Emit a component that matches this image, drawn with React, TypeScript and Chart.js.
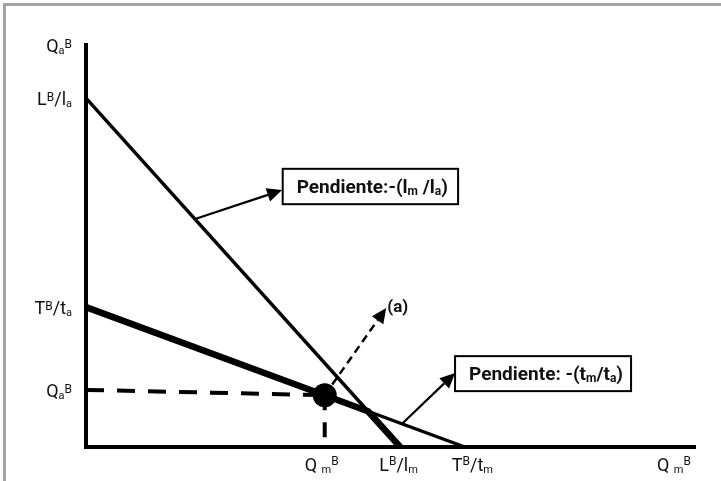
import React, { useEffect, useRef } from "react";
import { Chart, registerables } from "chart.js";

Chart.register(...registerables);

type Seg = { t: string; k?: "sub" | "sup" };

// ---------- data ----------
const steepLine = [{ x: 0, y: 86.8 }, { x: 51.6, y: 0 }]; // L^B/l_a -> L^B/l_m
const flatLine = [{ x: 0, y: 34.8 }, { x: 62.2, y: 0 }]; // T^B/t_a -> T^B/t_m
const frontier = [{ x: 0, y: 34.8 }, { x: 46.3, y: 8.9 }, { x: 51.6, y: 0 }];
const optimum = [{ x: 39.2, y: 12.9 }];
const guideH = [{ x: 0, y: 14.2 }, { x: 39.2, y: 12.9 }];
const guideV = [{ x: 39.2, y: 12.9 }, { x: 39.2, y: 0 }];

const yTickValues = [100, 86.8, 34.8, 14.2];
const yTickLabels: Seg[][] = [
  [{ t: "Q" }, { t: "a", k: "sub" }, { t: "B", k: "sup" }],
  [{ t: "L" }, { t: "B", k: "sup" }, { t: "/l" }, { t: "a", k: "sub" }],
  [{ t: "T" }, { t: "B", k: "sup" }, { t: "/t" }, { t: "a", k: "sub" }],
  [{ t: "Q" }, { t: "a", k: "sub" }, { t: "B", k: "sup" }],
];
const xTickValues = [39.2, 51.6, 62.2, 100];
const xTickLabels: Seg[][] = [
  [{ t: "Q " }, { t: "m", k: "sub" }, { t: "B", k: "sup" }],
  [{ t: "L" }, { t: "B", k: "sup" }, { t: "/l" }, { t: "m", k: "sub" }],
  [{ t: "T" }, { t: "B", k: "sup" }, { t: "/t" }, { t: "m", k: "sub" }],
  [{ t: "Q " }, { t: "m", k: "sub" }, { t: "B", k: "sup" }],
];

// annotations (arrows and slope boxes), in data units
const arrowFrom = [[17.9, 56.7], [51.9, 5.8], [39.2, 12.9]];
const arrowTo = [[32.2, 63.9], [60.6, 18.4], [49.3, 34.6]];
const arrowDashed = [false, false, true];
const pointLabel = "(a)";
const boxLabels: Seg[][] = [
  [{ t: "Pendiente:-(l" }, { t: "m", k: "sub" }, { t: " /l" }, { t: "a", k: "sub" }, { t: ")" }],
  [{ t: "Pendiente: -(t" }, { t: "m", k: "sub" }, { t: "/t" }, { t: "a", k: "sub" }, { t: ")" }],
];
const boxX = [[32.3, 61.1], [60.6, 89.5]];
const boxY = [[60.4, 69.2], [13.9, 22.6]];

// ---------- style ----------
const FONT = "Roboto, 'Noto Sans', sans-serif";
const xLabelDx = [-20, -21, -13, -38];

function drawRich(
  ctx: CanvasRenderingContext2D,
  segs: Seg[],
  x: number,
  y: number,
  align: "left" | "right" | "center",
  size: number,
  bold: boolean,
  supDy: number,
  small: number
) {
  const w8 = bold ? "bold " : "";
  const fontFor = (k?: string) =>
    `${w8}${k === "sub" ? small : k === "sup" ? small + 1 : size}px ${FONT}`;
  let w = 0;
  for (const s of segs) {
    ctx.font = fontFor(s.k);
    w += ctx.measureText(s.t).width;
  }
  let cx = align === "right" ? x - w : align === "center" ? x - w / 2 : x;
  ctx.textAlign = "left";
  ctx.textBaseline = "alphabetic";
  for (const s of segs) {
    ctx.font = fontFor(s.k);
    const dy = s.k === "sub" ? 2 : s.k === "sup" ? -supDy : 0;
    ctx.fillText(s.t, cx, y + dy);
    cx += ctx.measureText(s.t).width;
  }
}

function drawArrow(
  ctx: CanvasRenderingContext2D,
  x1: number,
  y1: number,
  x2: number,
  y2: number,
  dashed: boolean
) {
  const ang = Math.atan2(y2 - y1, x2 - x1);
  const L = 15;
  const W = 7;
  const bx = x2 - L * Math.cos(ang);
  const by = y2 - L * Math.sin(ang);
  ctx.save();
  ctx.strokeStyle = "#000";
  ctx.fillStyle = "#000";
  ctx.lineWidth = dashed ? 2.5 : 2.2;
  ctx.setLineDash(dashed ? [8, 5] : []);
  ctx.beginPath();
  ctx.moveTo(x1, y1);
  ctx.lineTo(bx, by);
  ctx.stroke();
  ctx.setLineDash([]);
  ctx.beginPath();
  ctx.moveTo(x2, y2);
  ctx.lineTo(bx - W * Math.sin(ang), by + W * Math.cos(ang));
  ctx.lineTo(bx + W * Math.sin(ang), by - W * Math.cos(ang));
  ctx.closePath();
  ctx.fill();
  ctx.restore();
}

const annotations = {
  id: "annotations",
  beforeDatasetsDraw(chart: any) {
    const { ctx, scales } = chart;
    const sx = scales.x;
    const sy = scales.y;
    for (let i = 0; i < arrowFrom.length; i++) {
      drawArrow(
        ctx,
        sx.getPixelForValue(arrowFrom[i][0]),
        sy.getPixelForValue(arrowFrom[i][1]),
        sx.getPixelForValue(arrowTo[i][0]),
        sy.getPixelForValue(arrowTo[i][1]),
        arrowDashed[i]
      );
    }
  },
  afterDatasetsDraw(chart: any) {
    const { ctx, scales } = chart;
    const sx = scales.x;
    const sy = scales.y;
    ctx.save();
    ctx.fillStyle = "#111";
    // tick labels
    const axisX = sx.getPixelForValue(0);
    const axisY = sy.getPixelForValue(0);
    yTickValues.forEach((v, i) => {
      drawRich(ctx, yTickLabels[i], axisX - 14, sy.getPixelForValue(v) + 7, "right", 18, false, 4, 11);
    });
    xTickValues.forEach((v, i) => {
      drawRich(ctx, xTickLabels[i], sx.getPixelForValue(v) + xLabelDx[i], axisY + 24, "left", 18, false, 6, 11);
    });
    // point label
    const t = arrowTo[2];
    ctx.font = `bold 17px ${FONT}`;
    ctx.textAlign = "left";
    ctx.textBaseline = "alphabetic";
    ctx.fillText(pointLabel, sx.getPixelForValue(t[0]) + 1, sy.getPixelForValue(t[1]) + 4);
    // boxes
    boxLabels.forEach((segs, i) => {
      const l = sx.getPixelForValue(boxX[i][0]);
      const r = sx.getPixelForValue(boxX[i][1]);
      const top = sy.getPixelForValue(boxY[i][1]);
      const bot = sy.getPixelForValue(boxY[i][0]);
      ctx.fillStyle = "#fff";
      ctx.fillRect(l, top, r - l, bot - top);
      ctx.strokeStyle = "#000";
      ctx.lineWidth = 2;
      ctx.strokeRect(l, top, r - l, bot - top);
      ctx.fillStyle = "#111";
      drawRich(ctx, segs, l + 14, (top + bot) / 2 + 6.5, "left", 19, true, 5, 12);
    });
    ctx.restore();
  },
};

export default function App() {
  const ref = useRef<HTMLCanvasElement | null>(null);

  useEffect(() => {
    if (!ref.current) return;
    const line = (data: any, width: number, extra: any = {}) => ({
      data,
      showLine: true,
      borderColor: "#000",
      backgroundColor: "#000",
      borderWidth: width,
      pointRadius: 0,
      pointHoverRadius: 0,
      clip: false,
      ...extra,
    });
    const chart = new Chart(ref.current, {
      type: "scatter",
      data: {
        datasets: [
          line(steepLine, 3.4) as any,
          line(flatLine, 3.4) as any,
          line(frontier, 6.5, { borderJoinStyle: "round" }) as any,
          line(guideH, 4, { borderDash: [18, 13] }) as any,
          line(guideV, 4, { borderDash: [15, 12] }) as any,
          {
            data: optimum,
            showLine: false,
            pointRadius: 12,
            pointHoverRadius: 12,
            pointBackgroundColor: "#000",
            pointBorderColor: "#000",
            borderWidth: 0,
            clip: false,
          } as any,
        ],
      },
      options: {
        animation: false,
        responsive: false,
        devicePixelRatio: 1,
        events: [],
        layout: { padding: { left: 86, right: 26, top: 45, bottom: 34 } },
        plugins: { legend: { display: false }, tooltip: { enabled: false } },
        scales: {
          x: {
            type: "linear",
            min: 0,
            max: 100,
            grid: { display: false },
            ticks: { display: false },
            border: { display: true, color: "#000", width: 4 },
            afterFit: (s: any) => {
              s.height = 0;
            },
          },
          y: {
            type: "linear",
            min: 0,
            max: 100,
            grid: { display: false },
            ticks: { display: false },
            border: { display: true, color: "#000", width: 4 },
            afterFit: (s: any) => {
              s.width = 0;
            },
          },
        },
      },
      plugins: [annotations],
    });
    return () => chart.destroy();
  }, []);

  return (
    <div
      style={{
        position: "fixed",
        left: 0,
        top: 0,
        width: 721,
        height: 481,
        overflow: "hidden",
        background: "#fff",
      }}
    >
      <canvas ref={ref} width={721} height={481} style={{ width: 721, height: 481, display: "block" }} />
      <div
        style={{
          position: "absolute",
          left: 3,
          top: 3,
          width: 740,
          height: 500,
          borderTop: "3px solid #a3a3a3",
          borderLeft: "3px solid #a3a3a3",
          pointerEvents: "none",
        }}
      />
    </div>
  );
}
